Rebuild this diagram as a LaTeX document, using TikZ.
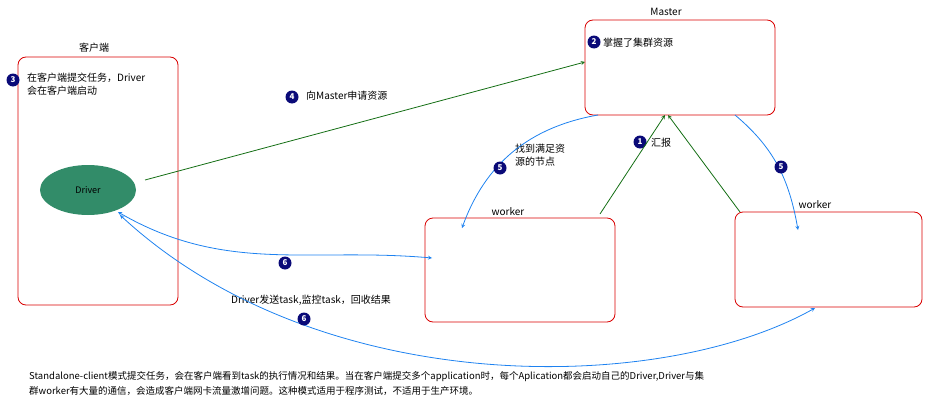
\documentclass[tikz,border=0pt]{standalone}
\usepackage{fontspec}
\setmainfont{Noto Sans CJK SC}
\usetikzlibrary{calc,shapes.geometric}
\definecolor{navy}{RGB}{10,10,120}
\definecolor{drvgreen}{RGB}{50,140,105}
\definecolor{arrgreen}{RGB}{20,110,20}
\definecolor{arrblue}{RGB}{30,130,240}
\tikzset{
  box/.style={draw=red!85!black, rounded corners=8pt, line width=0.8pt},
  num/.style={circle, fill=navy, text=white, inner sep=0pt, minimum size=13pt, font=\bfseries\fontsize{8}{8}\selectfont},
  lbl/.style={font=\fontsize{10}{13}\selectfont, inner sep=1pt},
  green arrow/.style={draw=arrgreen, line width=0.8pt, -stealth},
  blue arrow/.style={draw=arrblue, line width=0.8pt, -stealth},
}
\begin{document}
\begin{tikzpicture}[x=1pt, y=-1pt]
    \useasboundingbox (0,0) rectangle (943,415);
    % boxes
    \draw[box] (18,57) rectangle (178,305);
    \draw[box] (585,20) rectangle (775,115);
    \draw[box] (425,218) rectangle (615,322);
    \draw[box] (735,212) rectangle (922,307);
    \node[lbl] (tclient) at (94,48) {客户端};
    \node[lbl] (tmaster) at (666,12) {Master};
    \node[lbl] (tw1) at (508,212) {worker};
    \node[lbl] (tw2) at (815,205) {worker};

    \node (drv) at (88,190) [ellipse, fill=drvgreen, minimum width=96pt, minimum height=50pt, font=\fontsize{9}{9}\selectfont] {Driver};

    \coordinate (m1) at (585,62);
    \coordinate (m2) at (598,115);
    \coordinate (m3) at (665,115);
    \coordinate (m4) at (735,115);
    \coordinate (w1a) at (462,228);
    \coordinate (w1b) at (600,214);
    \coordinate (w1c) at (432,258);
    \coordinate (w2a) at (798,230);
    \coordinate (w2b) at (740,212);
    \coordinate (w2c) at (815,308);
    \coordinate (d1) at (145,180);
    \coordinate (d2) at (118,212);

    % numbers and texts
    \node[num] (n3) at (13,80) {3};
    \node[lbl, anchor=north west, align=left] (t3) at (26,72) {在客户端提交任务，Driver\\会在客户端启动};
    \node[num] (n2) at (594,42) {2};
    \node[lbl, anchor=west] (t2) at (602,43) {掌握了集群资源};
    \node[num] (n4) at (292,97) {4};
    \node[lbl, anchor=west] (t4) at (305,96) {向Master申请资源};
    \node[num] (n1) at (640,142) {1};
    \node[lbl, anchor=west] (t1) at (650,143) {汇报};
    \node[lbl, anchor=west, align=left] (t5) at (514,155) {找到满足资\\源的节点};
    \node[lbl, anchor=west] (t6) at (230,300) {Driver发送task,监控task，回收结果};

    % connectors
    \draw[green arrow] (d1) -- (m1);
    \draw[green arrow] (w1b) -- (m3);
    \draw[green arrow] (w2b) -- ($(m3)+(3,0)$);
    \draw[blue arrow] (m2) to[out=190, in=70] (w1a);
    \draw[blue arrow] (m4) to[out=-40, in=100] (w2a);
    \draw[blue arrow, stealth-stealth] (d2) to[out=-30, in=175] (w1c);
    \draw[blue arrow, stealth-stealth] ($(d2)+(2,3)$) .. controls (320,400) and (660,395) .. (w2c);

    \node[num] (n5a) at (500,168) {5};
    \node[num] (n5b) at (781,167) {5};
    \node[num] (n6a) at (285,263) {6};
    \node[num] (n6b) at (304,319) {6};

    \node[lbl, anchor=north west, align=left, font=\fontsize{9.5}{15}\selectfont] (note) at (28,370) {Standalone-client模式提交任务，会在客户端看到task的执行情况和结果。当在客户端提交多个application时，每个Aplication都会启动自己的Driver,Driver与集\\群worker有大量的通信，会造成客户端网卡流量激增问题。这种模式适用于程序测试，不适用于生产环境。};
\end{tikzpicture}
\end{document}
